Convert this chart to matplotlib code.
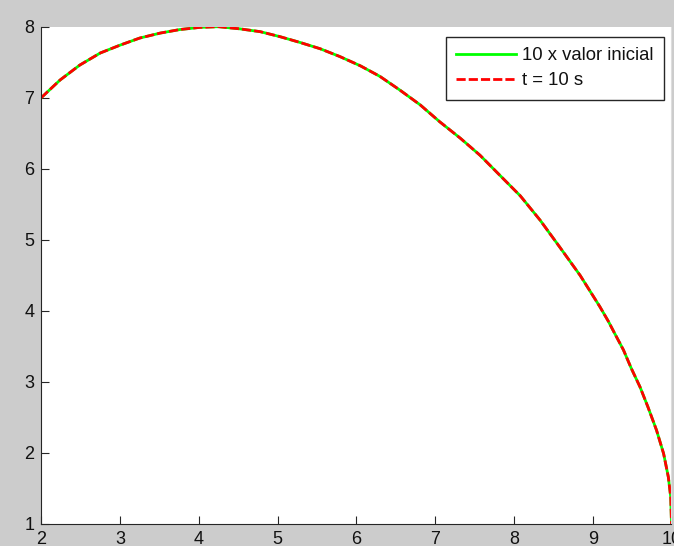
import numpy as np
import matplotlib
matplotlib.use('Agg')
from matplotlib import pyplot as plt

# curve (both runs lie on top of each other)
x_vals = [2.00, 2.24, 2.49, 2.75, 3.00, 3.25, 3.51, 3.76, 4.01, 4.25, 4.52,
          4.78, 5.03, 5.28, 5.54, 5.79, 6.05, 6.30, 6.55, 6.81, 7.06, 7.32,
          7.57, 7.82, 8.08, 8.33, 8.58, 8.84, 9.09, 9.20, 9.28, 9.39, 9.49,
          9.60, 9.70, 9.81, 9.90, 9.96, 9.99, 10.00]
y_vals = [7.00, 7.25, 7.46, 7.63, 7.74, 7.84, 7.91, 7.96, 7.99, 8.00, 7.97,
          7.93, 7.86, 7.78, 7.69, 7.58, 7.45, 7.30, 7.11, 6.90, 6.66, 6.43,
          6.19, 5.91, 5.62, 5.28, 4.90, 4.50, 4.06, 3.85, 3.68, 3.45, 3.19,
          2.93, 2.65, 2.32, 1.99, 1.66, 1.38, 1.00]
labels = ['10 x valor inicial', 't = 10 s']
x_ticks = [2, 3, 4, 5, 6, 7, 8, 9, 10]
y_ticks = [1, 2, 3, 4, 5, 6, 7, 8]

plt.rcParams['font.family'] = ['Liberation Sans', 'DejaVu Sans']

W, H = 674, 546
fig = plt.figure(figsize=(W / 100, H / 100), dpi=100, facecolor='#cccccc')
left, right, top, bottom = 41.2, 671.5, 26.7, 524.0
ax = fig.add_axes([left / W, 1 - bottom / H, (right - left) / W, (bottom - top) / H])
ax.set_facecolor('white')

ax.plot(x_vals, y_vals, color='#00ff00', lw=2.0, label=labels[0])
ax.plot(x_vals, y_vals, color='#ff0000', lw=2.0, dashes=(3.3, 1.1), label=labels[1])

ax.set_xlim(2, 10)
ax.set_ylim(1, 8)
ax.set_xticks(x_ticks)
ax.set_yticks(y_ticks)
ax.tick_params(direction='in', length=5.5, width=0.8, color='#262626',
               labelsize=13, labelcolor='#111111', pad=5)
ax.tick_params(axis='x', top=False)
ax.tick_params(axis='y', right=False)

for s in ['left', 'bottom']:
    ax.spines[s].set_color('#262626')
    ax.spines[s].set_linewidth(0.8)
ax.spines['top'].set_visible(False)
ax.spines['right'].set_color('#dddddd')
ax.spines['right'].set_linewidth(0.8)

leg = ax.legend(loc='upper right', bbox_to_anchor=(664 / W, 1 - 37 / H),
                bbox_transform=fig.transFigure, borderaxespad=0,
                fontsize=13.3, frameon=True, fancybox=False, shadow=False,
                handlelength=3.25, handletextpad=0.35, borderpad=0.55,
                labelspacing=0.45)
leg.get_frame().set_edgecolor('#262626')
leg.get_frame().set_linewidth(1.0)
leg.get_frame().set_alpha(1)
for t in leg.get_texts():
    t.set_color('#111111')

fig.savefig('out.png', dpi=100, facecolor=fig.get_facecolor())
